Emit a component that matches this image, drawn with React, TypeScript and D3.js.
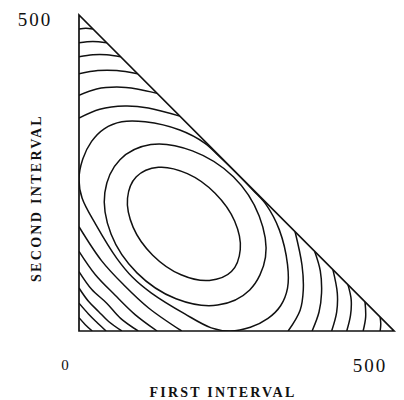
import * as d3 from "d3";
import { useEffect, useRef } from "react";

// axis limits and labels
const axisMax = 500;
const xTicks = [0, 500];
const yTicks = [500];
const xTitle = "FIRST INTERVAL";
const yTitle = "SECOND INTERVAL";

// closed contours round the peak, [first, second] interval
const ring1 = [
  [242, 94], [256, 129], [247, 174], [216, 218], [172, 249], [126, 259],
  [91, 244], [77, 210], [86, 164], [117, 120], [162, 89], [207, 80],
];
const ring2 = [
  [271, 65], [296, 117], [286, 182], [245, 244], [180, 285], [114, 295],
  [65, 271], [41, 219], [51, 153], [92, 92], [154, 51], [220, 41],
];
const ring3 = [
  [0, 240], [6, 272], [20, 300], [40, 320], [68, 331], [105, 331],
  [160, 318], [200, 297], [222, 277], [250, 250], [277, 222], [297, 200],
  [318, 160], [331, 105], [331, 68], [320, 40], [300, 20], [272, 6],
  [240, 0], [210, 5], [168, 27], [115, 60], [85, 85], [60, 115],
  [27, 168], [5, 210],
];

// corner arcs: top corner (left edge -> hypotenuse)
const topArcs = [
  [[0, 478], [11, 479], [22, 478]],
  [[0, 456], [22, 458], [44, 456]],
  [[0, 434], [22, 437], [44, 437], [66, 434]],
  [[0, 407], [30, 412], [60, 412], [93, 407]],
  [[0, 373], [28, 383], [60, 386], [92, 383], [124, 376]],
  [[0, 337], [33, 351], [73, 356], [110, 353], [160, 340]],
];
// right corner (bottom -> hypotenuse)
const rightArcs = [
  [[478, 0], [479, 11], [478, 22]],
  [[451, 0], [455, 22], [454, 46]],
  [[425, 0], [431, 25], [432, 50], [427, 73]],
  [[401, 0], [409, 30], [410, 60], [403, 97]],
  [[370, 0], [381, 30], [385, 60], [383, 95], [374, 126]],
  [[332, 0], [351, 33], [356, 65], [354, 104], [343, 157]],
];
// origin corner (left edge -> bottom)
const originArcs = [
  [[0, 21], [10, 10], [21, 0]],
  [[0, 44], [15, 27], [27, 15], [43, 0]],
  [[0, 68], [15, 47], [31, 31], [47, 15], [68, 0]],
  [[0, 94], [20, 66], [44, 44], [66, 20], [94, 0]],
  [[0, 126], [26, 89], [57, 57], [89, 26], [124, 0]],
  [[0, 165], [36, 111], [72, 72], [111, 36], [163, 0]],
];

export default function App() {
  const svgRef = useRef<SVGSVGElement>(null);

  useEffect(() => {
    const width = 404;
    const height = 400;
    const svg = d3.select(svgRef.current).attr("width", width).attr("height", height);
    svg.selectAll("*").remove();

    const x = d3.scaleLinear().domain([0, axisMax]).range([79, 394]);
    const y = d3.scaleLinear().domain([0, axisMax]).range([331, 15]);

    const corners = [[0, 0], [0, axisMax], [axisMax, 0]];
    const tri = d3
      .line<number[]>()
      .x((d) => x(d[0]))
      .y((d) => y(d[1]));

    svg
      .append("clipPath")
      .attr("id", "tri")
      .append("path")
      .attr("d", tri(corners) + "Z");

    const g = svg.append("g").attr("clip-path", "url(#tri)");

    const open = d3
      .line<number[]>()
      .x((d) => x(d[0]))
      .y((d) => y(d[1]))
      .curve(d3.curveCatmullRom.alpha(0.5));
    const closed = d3
      .line<number[]>()
      .x((d) => x(d[0]))
      .y((d) => y(d[1]))
      .curve(d3.curveCatmullRomClosed.alpha(0.5));

    g.selectAll("path.ring")
      .data([ring1, ring2, ring3])
      .join("path")
      .attr("class", "ring")
      .attr("d", (d) => closed(d))
      .attr("fill", "none")
      .attr("stroke", "#111")
      .attr("stroke-width", 1.5);

    g.selectAll("path.arc")
      .data([...topArcs, ...rightArcs, ...originArcs])
      .join("path")
      .attr("class", "arc")
      .attr("d", (d) => open(d))
      .attr("fill", "none")
      .attr("stroke", "#111")
      .attr("stroke-width", 1.5);

    // frame
    svg
      .append("path")
      .attr("d", tri(corners) + "Z")
      .attr("fill", "none")
      .attr("stroke", "#111")
      .attr("stroke-width", 1.7)
      .attr("stroke-linejoin", "miter");

    const font = "'Liberation Serif', 'DejaVu Serif', serif";

    svg
      .selectAll("text.xtick")
      .data(xTicks)
      .join("text")
      .attr("class", "xtick")
      .attr("x", (d) => x(d) + (d === 0 ? -13 : -24))
      .attr("y", (d) => (d === 0 ? 370 : 372))
      .attr("text-anchor", "middle")
      .attr("font-family", font)
      .attr("font-size", (d) => (d === 0 ? 15 : 19))
      .attr("letter-spacing", 2)
      .attr("fill", "#111")
      .text((d) => d);

    svg
      .selectAll("text.ytick")
      .data(yTicks)
      .join("text")
      .attr("class", "ytick")
      .attr("x", 35)
      .attr("y", (d) => y(d) + 11)
      .attr("text-anchor", "middle")
      .attr("font-family", font)
      .attr("font-size", 19)
      .attr("letter-spacing", 2)
      .attr("fill", "#111")
      .text((d) => d);

    svg
      .append("text")
      .attr("x", 223)
      .attr("y", 397)
      .attr("text-anchor", "middle")
      .attr("font-family", font)
      .attr("font-weight", "bold")
      .attr("font-size", 14)
      .attr("letter-spacing", 2.2)
      .attr("fill", "#111")
      .text(xTitle);

    svg
      .append("text")
      .attr("transform", "translate(41,198) rotate(-90)")
      .attr("text-anchor", "middle")
      .attr("font-family", font)
      .attr("font-weight", "bold")
      .attr("font-size", 14)
      .attr("letter-spacing", 2.3)
      .attr("fill", "#111")
      .text(yTitle);
  }, []);

  return (
    <svg
      ref={svgRef}
      style={{ position: "absolute", left: 0, top: 0, background: "#fff" }}
    ></svg>
  );
}
